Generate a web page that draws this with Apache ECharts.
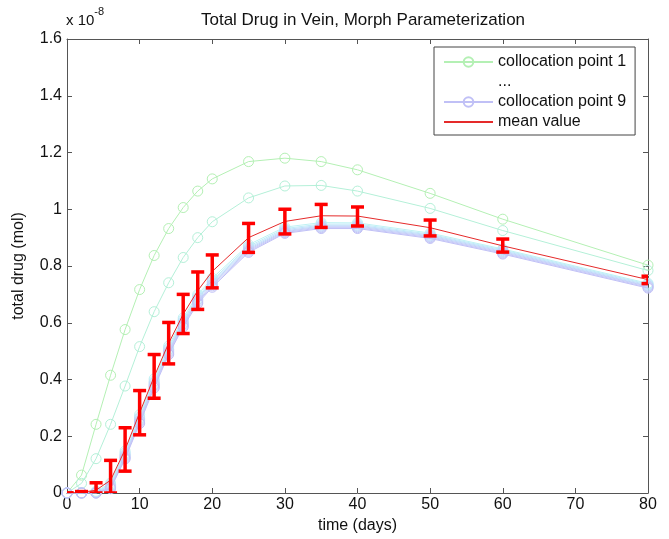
<!DOCTYPE html>
<html>
<head>
<meta charset="utf-8">
<script src="https://cdn.jsdelivr.net/npm/echarts@6/dist/echarts.min.js"></script>
<style>
html,body{margin:0;padding:0;background:#fff;}
#c{width:669px;height:539px;}
</style>
</head>
<body>
<div id="c"></div>
<script>
// time points (days)
var days = [0, 2, 4, 6, 8, 10, 12, 14, 16, 18, 20, 25, 30, 35, 40, 50, 60, 80];
// values in units of 1e-8 mol
var cp1 = [0, 0.063, 0.242, 0.415, 0.576, 0.717, 0.837, 0.932, 1.006, 1.064, 1.107, 1.168, 1.180, 1.168, 1.139, 1.056, 0.965, 0.803];
var cp2 = [0, 0.034, 0.121, 0.242, 0.377, 0.516, 0.639, 0.741, 0.830, 0.900, 0.956, 1.040, 1.082, 1.084, 1.064, 1.003, 0.925, 0.784];
var cp3 = [0, 0.001, 0.006, 0.035, 0.148, 0.276, 0.402, 0.518, 0.617, 0.699, 0.757, 0.875, 0.937, 0.953, 0.952, 0.916, 0.860, 0.739];
var cp4 = [0, 0, 0.004, 0.030, 0.141, 0.268, 0.394, 0.511, 0.610, 0.692, 0.750, 0.869, 0.932, 0.948, 0.948, 0.912, 0.857, 0.736];
var cp5 = [0, 0, 0.003, 0.026, 0.136, 0.263, 0.389, 0.506, 0.605, 0.687, 0.745, 0.864, 0.928, 0.944, 0.944, 0.909, 0.854, 0.733];
var cp6 = [0, 0, 0.002, 0.023, 0.132, 0.258, 0.384, 0.501, 0.600, 0.682, 0.740, 0.860, 0.924, 0.941, 0.941, 0.906, 0.851, 0.730];
var cp7 = [0, 0, 0, 0.020, 0.128, 0.254, 0.380, 0.497, 0.595, 0.677, 0.735, 0.856, 0.921, 0.938, 0.938, 0.903, 0.848, 0.728];
var cp8 = [0, 0, 0, 0.018, 0.124, 0.250, 0.375, 0.493, 0.590, 0.673, 0.730, 0.852, 0.918, 0.935, 0.935, 0.900, 0.845, 0.725];
var cp9 = [0, 0, 0, 0.015, 0.120, 0.245, 0.370, 0.488, 0.585, 0.668, 0.725, 0.848, 0.915, 0.932, 0.932, 0.897, 0.842, 0.722];
var meanVal = [0, 0.002, 0.010, 0.045, 0.153, 0.283, 0.410, 0.528, 0.630, 0.713, 0.781, 0.900, 0.957, 0.977, 0.976, 0.935, 0.871, 0.752];
var errLow  = [0, 0, 0, 0, 0.077, 0.205, 0.334, 0.455, 0.562, 0.647, 0.723, 0.848, 0.913, 0.936, 0.941, 0.906, 0.849, 0.738];
var errHigh = [0, 0.005, 0.036, 0.115, 0.230, 0.361, 0.488, 0.601, 0.700, 0.779, 0.839, 0.950, 1.000, 1.017, 1.008, 0.962, 0.895, 0.764];
var yTicks = [0, 0.2, 0.4, 0.6, 0.8, 1, 1.2, 1.4, 1.6];
var xTicks = [0, 10, 20, 30, 40, 50, 60, 70, 80];

var cpSeries = [cp1, cp2, cp3, cp4, cp5, cp6, cp7, cp8, cp9];
var cpColors = ['#b4f0b4', '#b4f0d8', '#bff2f4', '#c0ecf8', '#c0e2fa', '#c2d8fa', '#c4d0f8', '#c6c8f8', '#c0c0f6'];

function pairs(arr) { return days.map(function (d, i) { return [d, arr[i]]; }); }

var series = [];
cpSeries.forEach(function (arr, k) {
  series.push({
    type: 'line',
    name: 'collocation point ' + (k + 1),
    data: pairs(arr),
    symbol: 'circle',
    symbolSize: 10,
    lineStyle: { color: cpColors[k], width: 1 },
    itemStyle: { color: 'rgba(255,255,255,0)', borderColor: cpColors[k], borderWidth: 1 },
    z: 2 + k * 0.01,
    animation: false
  });
});
series.push({
  type: 'line', name: '...', data: [],
  symbol: 'none', lineStyle: { opacity: 0 }, itemStyle: { opacity: 0 }
});
series.push({
  type: 'line', name: 'mean value', data: pairs(meanVal),
  symbol: 'none', lineStyle: { color: '#e52a2a', width: 1 }, itemStyle: { color: '#e52a2a' },
  z: 4, animation: false
});
series.push({
  type: 'custom', name: 'error', clip: true, z: 5, animation: false,
  data: days.map(function (d, i) { return [d, errLow[i], errHigh[i]]; }),
  renderItem: function (params, api) {
    var lo = api.coord([api.value(0), api.value(1)]);
    var hi = api.coord([api.value(0), api.value(2)]);
    var hw = 6.5;
    var st = { stroke: '#ff0000', lineWidth: 3.5 };
    return {
      type: 'group',
      children: [
        { type: 'line', shape: { x1: lo[0], y1: lo[1], x2: hi[0], y2: hi[1] }, style: st },
        { type: 'line', shape: { x1: lo[0] - hw, y1: lo[1], x2: lo[0] + hw, y2: lo[1] }, style: st },
        { type: 'line', shape: { x1: hi[0] - hw, y1: hi[1], x2: hi[0] + hw, y2: hi[1] }, style: st }
      ]
    };
  }
});

var axisCol = '#555';
var font = 'Liberation Sans, Arial, sans-serif';
var chart = echarts.init(document.getElementById('c'), null, { renderer: 'canvas' });
chart.setOption({
  animation: false,
  backgroundColor: '#fff',
  textStyle: { fontFamily: font },
  title: {
    text: 'Total Drug in Vein, Morph Parameterization',
    left: 358, top: 7, textAlign: 'center',
    textStyle: { fontSize: 17, fontWeight: 'normal', color: '#111', fontFamily: font }
  },
  graphic: [{
    type: 'text', left: 66, top: 6,
    style: {
      text: '{a|x 10}{b|-8}',
      rich: {
        a: { fontSize: 15, fill: '#111', fontFamily: font, padding: [7, 0, 0, 0] },
        b: { fontSize: 11, fill: '#111', fontFamily: font, verticalAlign: 'top' }
      }
    }
  }],
  legend: {
    orient: 'vertical', left: 434, top: 47,
    padding: [7, 9, 5, 9], itemGap: 4, itemWidth: 49, itemHeight: 12,
    backgroundColor: '#fff', borderColor: '#444', borderWidth: 1, borderRadius: 0,
    textStyle: { fontSize: 16, color: '#111', fontFamily: font, lineHeight: 16 },
    data: [
      { name: 'collocation point 1' },
      { name: '...', icon: 'none' },
      { name: 'collocation point 9' },
      { name: 'mean value', itemStyle: { color: 'rgba(0,0,0,0)', borderColor: 'rgba(0,0,0,0)' } }
    ]
  },
  grid: { left: 67, top: 39, right: 21, bottom: 42, containLabel: false },
  xAxis: [{
    type: 'value', min: 0, max: 80, interval: 10,
    name: 'time (days)', nameLocation: 'middle', nameGap: 25,
    nameTextStyle: { fontSize: 16, color: '#111' },
    axisLine: { show: true, lineStyle: { color: axisCol } },
    axisTick: { show: true, inside: true, length: 5, lineStyle: { color: axisCol } },
    axisLabel: { fontSize: 16, color: '#111', margin: 4,
      formatter: function (v) { return xTicks.indexOf(v) >= 0 ? String(v) : ''; } },
    splitLine: { show: false }
  }, {
    type: 'value', min: 0, max: 80, interval: 10, position: 'top',
    axisLine: { show: true, onZero: false, lineStyle: { color: axisCol } },
    axisTick: { show: true, inside: true, length: 5, lineStyle: { color: axisCol } },
    axisLabel: { show: false }, splitLine: { show: false }
  }],
  yAxis: [{
    type: 'value', min: 0, max: 1.6, interval: 0.2,
    name: 'total drug (mol)', nameLocation: 'middle', nameGap: 40,
    nameTextStyle: { fontSize: 16, color: '#111' },
    axisLine: { show: true, lineStyle: { color: axisCol } },
    axisTick: { show: true, inside: true, length: 5, lineStyle: { color: axisCol } },
    axisLabel: { fontSize: 16, color: '#111', margin: 5,
      formatter: function (v) {
        var r = Math.round(v * 10) / 10;
        for (var i = 0; i < yTicks.length; i++) if (Math.abs(yTicks[i] - r) < 1e-9) return String(yTicks[i]);
        return '';
      } },
    splitLine: { show: false }
  }, {
    type: 'value', min: 0, max: 1.6, interval: 0.2, position: 'right',
    axisLine: { show: true, onZero: false, lineStyle: { color: axisCol } },
    axisTick: { show: true, inside: true, length: 5, lineStyle: { color: axisCol } },
    axisLabel: { show: false }, splitLine: { show: false }
  }],
  series: series
});
</script>
</body>
</html>
